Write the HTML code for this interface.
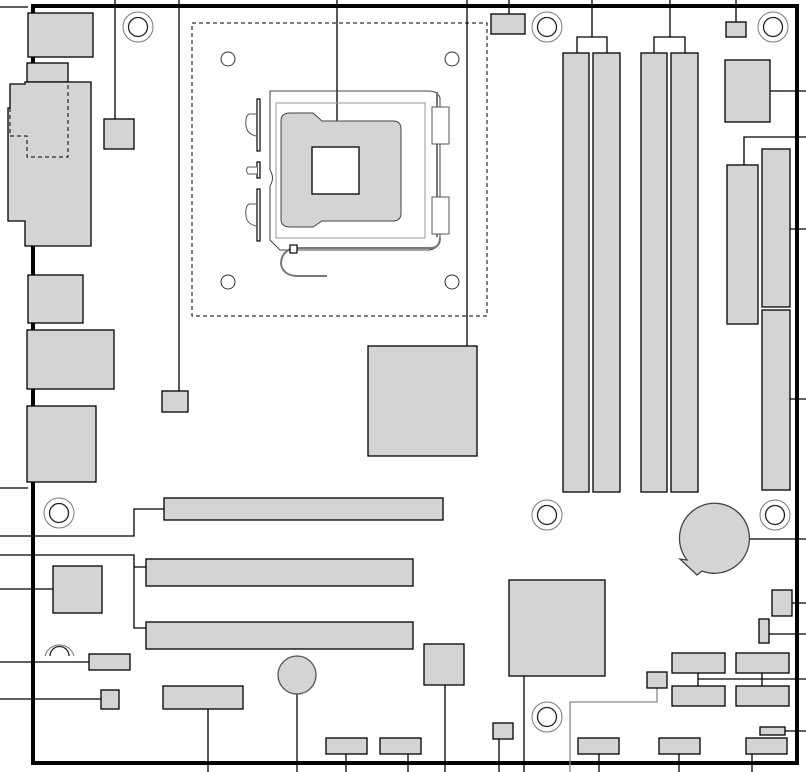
<!DOCTYPE html>
<html><head><style>html,body{margin:0;padding:0;background:#fff}svg{display:block}</style></head><body>
<svg width="806" height="772" viewBox="0 0 806 772" xmlns="http://www.w3.org/2000/svg">
<defs>
<g id="ring"><circle r="15" fill="none" stroke="#777" stroke-width="1"/><circle r="9.5" fill="none" stroke="#222" stroke-width="1.3"/></g>
</defs>
<g fill="none" stroke="#000" stroke-width="4">
<path d="M33 6 H797 V763 H33 Z"/>
</g>
<g stroke="#000" stroke-width="1.3" fill="none">
<path d="M0 7H28"/>
<path d="M115 0V127"/>
<path d="M179 0V398"/>
<path d="M337 0V131"/>
<path d="M467 0V357"/>
<path d="M509 0V22"/>
<path d="M592 0V37M577 63V37H607V63"/>
<path d="M670 0V37M654 63V37H685V63"/>
<path d="M736 0V30"/>
<path d="M761 91H806"/>
<path d="M744 174V137H806"/>
<path d="M782 229H806"/>
<path d="M782 399H806"/>
<path d="M0 488H28"/>
<path d="M0 536H134V509H171"/>
<path d="M0 555H134V628H154M134 567H154"/>
<path d="M0 589H60"/>
<path d="M0 662H96"/>
<path d="M0 699H107"/>
<path d="M208 698V772"/>
<path d="M297 675V772"/>
<path d="M346 745V772"/>
<path d="M408 745V772"/>
<path d="M445 669V772"/>
<path d="M499 731V772"/>
<path d="M524 663V772"/>
<path d="M599 745V772"/>
<path d="M679 745V772"/>
<path d="M752 745V772"/>
<path d="M739 539H806"/>
<path d="M785 603H806"/>
<path d="M765 634H806"/>
<path d="M698 679H806M698 669V691M762 669V691"/>
<path d="M778 731H806"/>
</g>
<path d="M657 681V702H570V772" fill="none" stroke="#888" stroke-width="1.3"/>
<g fill="#d3d4d6" stroke="#000" stroke-width="1.3">
<rect x="28" y="13" width="65" height="44"/>
<rect x="27" y="63" width="41" height="19"/>
<path d="M25 82H91V246H25V221H8V108H10V84H25Z"/>
<rect x="104" y="119" width="30" height="30"/>
<rect x="28" y="275" width="55" height="48"/>
<rect x="27" y="330" width="87" height="59"/>
<rect x="27" y="406" width="69" height="76"/>
<rect x="162" y="391" width="26" height="21"/>
<rect x="368" y="346" width="109" height="110"/>
<rect x="164" y="498" width="279" height="22"/>
<rect x="146" y="559" width="267" height="27"/>
<rect x="146" y="622" width="267" height="27"/>
<rect x="53" y="566" width="49" height="47"/>
<rect x="89" y="654" width="41" height="16"/>
<rect x="101" y="690" width="18" height="19"/>
<rect x="163" y="686" width="80" height="23"/>
<circle cx="297" cy="675" r="19" stroke="#555"/>
<rect x="326" y="738" width="41" height="16"/>
<rect x="380" y="738" width="41" height="16"/>
<rect x="424" y="644" width="40" height="41"/>
<rect x="493" y="723" width="20" height="16"/>
<rect x="509" y="580" width="96" height="96"/>
<rect x="647" y="672" width="20" height="16"/>
<rect x="672" y="653" width="53" height="20"/>
<rect x="736" y="653" width="53" height="20"/>
<rect x="672" y="686" width="53" height="20"/>
<rect x="736" y="686" width="53" height="20"/>
<rect x="760" y="727" width="25" height="8"/>
<rect x="578" y="738" width="41" height="16"/>
<rect x="659" y="738" width="41" height="16"/>
<rect x="746" y="738" width="41" height="16"/>
<rect x="772" y="590" width="20" height="26"/>
<rect x="759" y="619" width="10" height="24"/>
<path d="M687 560 A35 35 0 1 1 702 571 L697 575 L680 559 Z" stroke="#444"/>
<rect x="491" y="14" width="34" height="20"/>
<rect x="563" y="53" width="26" height="439"/>
<rect x="593" y="53" width="27" height="439"/>
<rect x="641" y="53" width="26" height="439"/>
<rect x="671" y="53" width="27" height="439"/>
<rect x="726" y="22" width="20" height="15"/>
<rect x="725" y="60" width="45" height="62"/>
<rect x="727" y="165" width="31" height="159"/>
<rect x="762" y="149" width="28" height="158"/>
<rect x="762" y="310" width="28" height="180"/>
</g>
<path d="M10 108V136H27V157H68V84" fill="none" stroke="#000" stroke-width="1" stroke-dasharray="4,3"/>
<rect x="192" y="23" width="295" height="293" fill="none" stroke="#000" stroke-width="1" stroke-dasharray="4,3"/>
<g fill="none" stroke="#333" stroke-width="1">
<circle cx="228" cy="59" r="7"/><circle cx="452" cy="59" r="7"/>
<circle cx="228" cy="282" r="7"/><circle cx="452" cy="282" r="7"/>
</g>
<!-- socket -->
<g fill="none" stroke="#444" stroke-width="1">
<path d="M270 91H428Q438 91 440 98V238Q438 250 428 250H280L270 240V186Q275 178 270 170V104Z"/>
<path d="M276 103H425V238H276Z" stroke="#999"/>
<path d="M437 92V237" stroke="#777" stroke-width="2"/>
<path d="M296 248H430Q440 248 440 238" stroke="#777" stroke-width="2"/>
<path d="M293 248Q281 252 281 264Q283 275 296 276H327" stroke="#777" stroke-width="2"/>
</g>
<path d="M281 121Q281 113 290 113H313L322 121H393Q401 121 401 129V213Q401 221 393 221H322L313 227H290Q281 227 281 219Z" fill="#d3d4d6" stroke="#444" stroke-width="1"/>
<rect x="312" y="147" width="47" height="47" fill="#fff" stroke="#000" stroke-width="1.3"/>
<g fill="#fff" stroke="#000" stroke-width="1.2">
<rect x="257" y="99" width="3" height="52"/>
<rect x="257" y="189" width="3" height="52"/>
<rect x="257" y="162" width="3" height="16"/>
<rect x="290" y="245" width="7" height="8"/>
</g>
<g fill="#fff" stroke="#555" stroke-width="1">
<rect x="432" y="107" width="17" height="37"/>
<rect x="432" y="197" width="17" height="37"/>
<path d="M256 114H249Q245 116 246 126Q247 134 256 136"/>
<path d="M256 204H249Q245 206 246 216Q247 224 256 226"/>
<path d="M257 167H248Q245 170 248 174H257"/>
</g>
<use href="#ring" x="138" y="27"/>
<use href="#ring" x="547" y="27"/>
<use href="#ring" x="773" y="27"/>
<use href="#ring" x="59" y="513"/>
<use href="#ring" x="547" y="515"/>
<use href="#ring" x="775" y="515"/>
<use href="#ring" x="547" y="717"/>
<g fill="none" stroke-width="1">
<path d="M45 656A15 15 0 0 1 74 656" stroke="#777"/>
<path d="M50 656A9.5 9.5 0 0 1 69 656" stroke="#222" stroke-width="1.3"/>
</g>
</svg>
</body></html>
